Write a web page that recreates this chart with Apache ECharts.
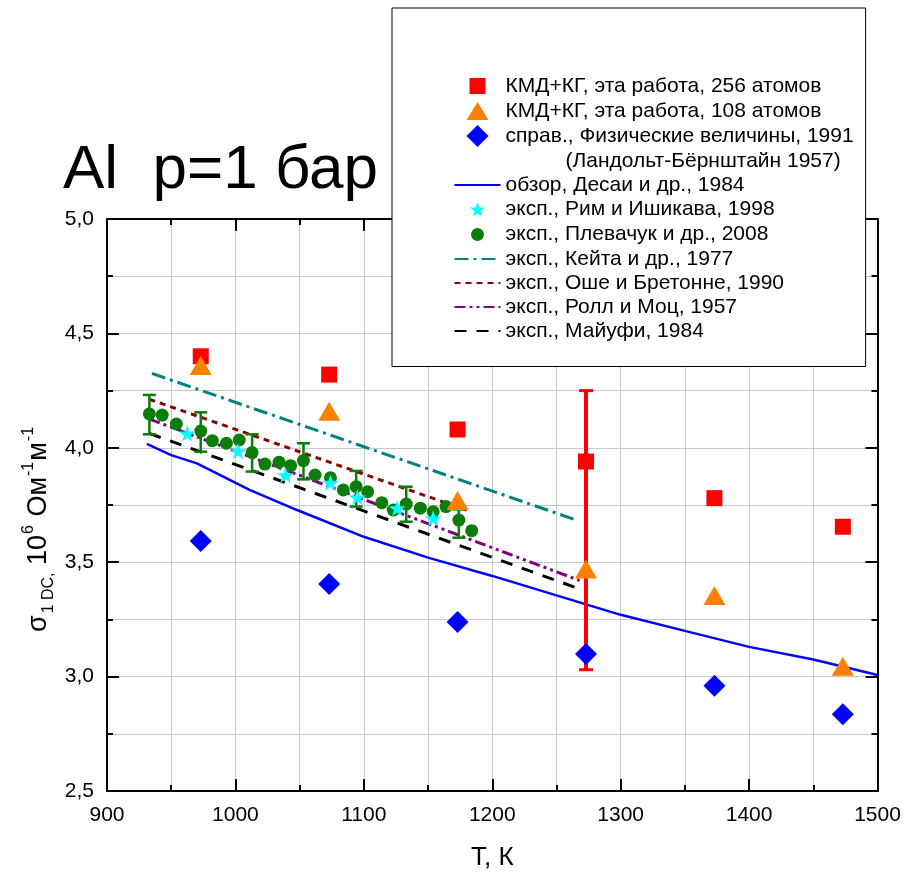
<!DOCTYPE html>
<html>
<head>
<meta charset="utf-8">
<script src="https://cdn.jsdelivr.net/npm/echarts@6/dist/echarts.min.js"></script>
<style>
html,body{margin:0;padding:0;background:#fff;}
#chart{width:908px;height:872px;}
</style>
</head>
<body>
<div id="chart"></div>
<script>
// ---------- data ----------
const T_SIM = [973, 1073, 1173, 1273, 1373, 1473];
const SIGMA_256 = [4.40, 4.32, 4.08, 3.94, 3.78, 3.655];
const SIGMA_108 = [4.36, 4.16, 3.77, 3.47, 3.355, 3.045];
const SIGMA_REF = [3.593, 3.405, 3.239, 3.099, 2.96, 2.835];
const T_256_ERR = [1273];
const SIGMA_256_LO = [3.03];
const SIGMA_256_HI = [4.25];

const T_DESAI = [931, 950, 970, 1011, 1048, 1100, 1150, 1200, 1250, 1300, 1350, 1400, 1450, 1500];
const SIGMA_DESAI = [4.017, 3.968, 3.932, 3.816, 3.728, 3.611, 3.52, 3.44, 3.355, 3.27, 3.2, 3.13, 3.075, 3.007];

const T_RIM = [962.5, 1002, 1039, 1074, 1095, 1126, 1154];
const SIGMA_RIM = [4.063, 3.986, 3.881, 3.848, 3.784, 3.736, 3.692];

const T_PLE = [933, 943, 954, 973, 982, 993, 1003, 1013, 1023, 1034, 1043, 1053, 1062, 1074, 1084, 1094, 1103, 1114, 1123, 1133, 1144, 1154, 1164, 1174, 1184];
const SIGMA_PLE = [4.148, 4.143, 4.104, 4.073, 4.031, 4.02, 4.034, 3.979, 3.929, 3.937, 3.922, 3.944, 3.881, 3.869, 3.816, 3.83, 3.808, 3.76, 3.728, 3.754, 3.736, 3.721, 3.743, 3.684, 3.638];
const T_PLE_ERR = [933, 973, 1013, 1053, 1094, 1133, 1174];
const SIGMA_PLE_LO = [4.059, 3.983, 3.896, 3.862, 3.743, 3.677, 3.607];
const SIGMA_PLE_HI = [4.231, 4.155, 4.059, 4.02, 3.899, 3.83, 3.731];

const T_KEITA = [935, 1265];
const SIGMA_KEITA = [4.325, 3.685];
const T_OSHE = [933, 1180];
const SIGMA_OSHE = [4.212, 3.728];
const T_ROLL = [933, 1268];
const SIGMA_ROLL = [4.126, 3.42];
const T_MAY = [933, 1268];
const SIGMA_MAY = [4.063, 3.383];

const X_MIN = 900, X_MAX = 1500, X_STEP = 100;
const Y_MIN = 2.5, Y_MAX = 5.0, Y_STEP = 0.5;

const NAMES = {
  s256: 'КМД+КГ, эта работа, 256 атомов',
  s108: 'КМД+КГ, эта работа, 108 атомов',
  ref: 'справ., Физические величины, 1991',
  ref2: '(Ландольт-Бёрнштайн 1957)',
  desai: 'обзор, Десаи и др., 1984',
  rim: 'эксп., Рим и Ишикава, 1998',
  ple: 'эксп., Плевачук и др., 2008',
  keita: 'эксп., Кейта и др., 1977',
  oshe: 'эксп., Оше и Бретонне, 1990',
  roll: 'эксп., Ролл и Моц, 1957',
  may: 'эксп., Майуфи, 1984'
};

// ---------- helpers ----------
const zip = (a, b) => a.map((v, i) => [v, b[i]]);
const zip3 = (a, b, c) => a.map((v, i) => [v, b[i], c[i]]);
const FONT = 'Liberation Sans, Arial, Helvetica, sans-serif';
const STAR = 'path://M50,0 L61.8,35.1 L98.1,35.1 L68.8,56.8 L79.4,91 L50,70 L20.6,91 L31.2,56.8 L1.9,35.1 L38.2,35.1 Z';

// legend icons drawn in a 22x22 frame (the two leading M points fix the frame size)
const ICON = {
  square: 'path://M0,0 M22,22 M3,3 L19,3 L19,19 L3,19 Z',
  triangle: 'path://M0,0 M22,22 M11,2 L22,20 L0,20 Z',
  diamond: 'path://M0,0 M22,22 M11,0 L22,11 L11,22 L0,11 Z',
  star: 'path://M0,0 M22,22 M11,3.5 L12.9,9.1 L18.7,9.1 L14,12.6 L15.7,18.1 L11,14.7 L6.3,18.1 L8,12.6 L3.3,9.1 L9.1,9.1 Z',
  circle: 'path://M0,0 M22,22 M17.5,11 A6.5,6.5 0 1 1 4.5,11 A6.5,6.5 0 1 1 17.5,11 Z'
};

function errRender(color, lw, capW, capLw) {
  return function (params, api) {
    const x = api.value(0);
    const lo = api.coord([x, api.value(1)]);
    const hi = api.coord([x, api.value(2)]);
    const st = { stroke: color, lineWidth: lw };
    const cs = { stroke: color, lineWidth: capLw };
    return {
      type: 'group',
      children: [
        { type: 'line', shape: { x1: lo[0], y1: lo[1], x2: hi[0], y2: hi[1] }, style: st },
        { type: 'line', shape: { x1: lo[0] - capW / 2, y1: lo[1], x2: lo[0] + capW / 2, y2: lo[1] }, style: cs },
        { type: 'line', shape: { x1: hi[0] - capW / 2, y1: hi[1], x2: hi[0] + capW / 2, y2: hi[1] }, style: cs }
      ]
    };
  };
}

function lineSeries(name, data, color, type, width) {
  return {
    name, type: 'line', data, showSymbol: false, symbol: 'none',
    lineStyle: { color, width, type }, itemStyle: { color },
    z: 2, silent: true
  };
}

const axisCommon = {
  axisLine: { show: true, onZero: false, lineStyle: { color: '#000', width: 2 } },
  axisTick: { show: true, inside: true, length: 12, lineStyle: { color: '#000', width: 2 } },
  minorTick: { show: true, splitNumber: 2, length: 6, lineStyle: { color: '#000', width: 2 } },
};

const hiddenDot = { color: 'rgba(0,0,0,0)', borderWidth: 0, opacity: 0 };

const chart = echarts.init(document.getElementById('chart'), null, { renderer: 'canvas' });

const option = {
  animation: false,
  backgroundColor: '#fff',
  textStyle: { fontFamily: FONT },
  title: {
    text: 'Al  p=1 бар',
    left: 63, top: 140, padding: 0,
    textStyle: { fontSize: 62, fontWeight: 'normal', color: '#000', fontFamily: FONT }
  },
  grid: { left: 107, right: 30.5, top: 219, bottom: 81, containLabel: false, outerBoundsMode: 'none' },
  xAxis: [
    Object.assign({}, axisCommon, {
      type: 'value', position: 'bottom', min: X_MIN, max: X_MAX, interval: X_STEP,
      name: 'Т, К', nameLocation: 'middle', nameGap: 54, nameMoveOverlap: false,
      nameTextStyle: { fontSize: 26, color: '#000', fontFamily: FONT },
      axisLabel: { fontSize: 21, color: '#000', margin: 14, fontFamily: FONT, formatter: v => String(v) },
      splitLine: { show: true, lineStyle: { color: '#c8c8c8', width: 1 } },
      minorSplitLine: { show: true, lineStyle: { color: '#c8c8c8', width: 1 } }
    }),
    Object.assign({}, axisCommon, {
      type: 'value', position: 'top', min: X_MIN, max: X_MAX, interval: X_STEP,
      axisLabel: { show: false }, splitLine: { show: false }, minorSplitLine: { show: false }
    })
  ],
  yAxis: [
    Object.assign({}, axisCommon, {
      type: 'value', position: 'left', min: Y_MIN, max: Y_MAX, interval: Y_STEP,
      name: '{s|σ}{sub|1 DC,}{s| 10}{sup|6}{s| Ом}{sup|-1}{s|м}{sup|-1}',
      nameLocation: 'middle', nameRotate: 90, nameGap: 50, nameMoveOverlap: false,
      nameTextStyle: {
        color: '#000', fontFamily: FONT, fontSize: 27,
        padding: [0, 48, 0, 0],
        rich: {
          s: { fontSize: 27, lineHeight: 36, color: '#000', fontFamily: FONT, verticalAlign: 'middle' },
          sub: { fontSize: 16, lineHeight: 36, color: '#000', fontFamily: FONT, verticalAlign: 'bottom', padding: [0, 0, 0, 2] },
          sup: { fontSize: 16, lineHeight: 36, color: '#000', fontFamily: FONT, verticalAlign: 'top', padding: [0, 1, 0, 1] }
        }
      },
      axisLabel: {
        fontSize: 21, color: '#000', margin: 13, fontFamily: FONT,
        formatter: v => v.toFixed(1).replace('.', ',')
      },
      splitLine: { show: true, lineStyle: { color: '#c8c8c8', width: 1 } },
      minorSplitLine: { show: true, lineStyle: { color: '#c8c8c8', width: 1 } }
    }),
    Object.assign({}, axisCommon, {
      type: 'value', position: 'right', min: Y_MIN, max: Y_MAX, interval: Y_STEP,
      axisLabel: { show: false }, splitLine: { show: false }, minorSplitLine: { show: false }
    })
  ],
  legend: {
    orient: 'vertical',
    left: 392, top: 8,
    padding: [67, 12, 25, 61.5],
    backgroundColor: '#fff',
    borderColor: '#000', borderWidth: 1,
    itemWidth: 46, itemHeight: 22, itemGap: 3,
    symbolKeepAspect: true,
    selectedMode: false,
    z: 10,
    textStyle: { fontSize: 21, lineHeight: 21, color: '#000', fontFamily: FONT, rich: { ind: { width: 60 } } },
    formatter: function (name) {
      return name === NAMES.ref2 ? '{ind|}' + name : name;
    },
    data: [
      { name: NAMES.s256, icon: ICON.square },
      { name: NAMES.s108, icon: ICON.triangle },
      { name: NAMES.ref, icon: ICON.diamond },
      { name: NAMES.ref2, icon: 'none' },
      { name: NAMES.desai, itemStyle: hiddenDot },
      { name: NAMES.rim, icon: ICON.star },
      { name: NAMES.ple, icon: ICON.circle },
      { name: NAMES.keita, itemStyle: hiddenDot },
      { name: NAMES.oshe, itemStyle: hiddenDot },
      { name: NAMES.roll, itemStyle: hiddenDot },
      { name: NAMES.may, itemStyle: hiddenDot }
    ]
  },
  series: [
    lineSeries(NAMES.desai, zip(T_DESAI, SIGMA_DESAI), '#0000ff', 'solid', 2.5),
    lineSeries(NAMES.keita, zip(T_KEITA, SIGMA_KEITA), '#008080', [14, 5, 3, 5], 3),
    lineSeries(NAMES.oshe, zip(T_OSHE, SIGMA_OSHE), '#8b0000', [6, 5], 3),
    lineSeries(NAMES.roll, zip(T_ROLL, SIGMA_ROLL), '#800080', [11, 4, 3, 4, 3, 4], 3),
    lineSeries(NAMES.may, zip(T_MAY, SIGMA_MAY), '#000000', [12, 10], 3),
    {
      name: 'err_ple', type: 'custom', renderItem: errRender('#0a7d0a', 2.5, 13, 2.5),
      data: zip3(T_PLE_ERR, SIGMA_PLE_LO, SIGMA_PLE_HI), encode: { x: 0, y: [1, 2] }, z: 3, silent: true
    },
    {
      name: NAMES.ple, type: 'scatter', data: zip(T_PLE, SIGMA_PLE),
      symbol: 'circle', symbolSize: 13, itemStyle: { color: '#0a7d0a', opacity: 1 }, z: 3
    },
    {
      name: NAMES.rim, type: 'scatter', data: zip(T_RIM, SIGMA_RIM), symbolKeepAspect: true,
      symbol: STAR, symbolSize: 17, itemStyle: { color: '#00ffff', opacity: 1 }, z: 4
    },
    {
      name: 'err_256', type: 'custom', renderItem: errRender('#ff0000', 4, 14, 3),
      data: zip3(T_256_ERR, SIGMA_256_LO, SIGMA_256_HI), encode: { x: 0, y: [1, 2] }, z: 4, silent: true
    },
    {
      name: NAMES.s256, type: 'scatter', data: zip(T_SIM, SIGMA_256),
      symbol: 'rect', symbolSize: 16, itemStyle: { color: '#ff0000', opacity: 1 }, z: 5
    },
    {
      name: NAMES.s108, type: 'scatter', data: zip(T_SIM, SIGMA_108),
      symbol: 'triangle', symbolSize: [22, 19], itemStyle: { color: '#ff8000', opacity: 1 }, z: 5
    },
    {
      name: NAMES.ref, type: 'scatter', data: zip(T_SIM, SIGMA_REF),
      symbol: 'diamond', symbolSize: [22, 22], itemStyle: { color: '#0000ff', opacity: 1 }, z: 5
    },
    { name: NAMES.ref2, type: 'scatter', data: [], itemStyle: { color: 'rgba(0,0,0,0)' } }
  ]
};

chart.setOption(option);
</script>
</body>
</html>
